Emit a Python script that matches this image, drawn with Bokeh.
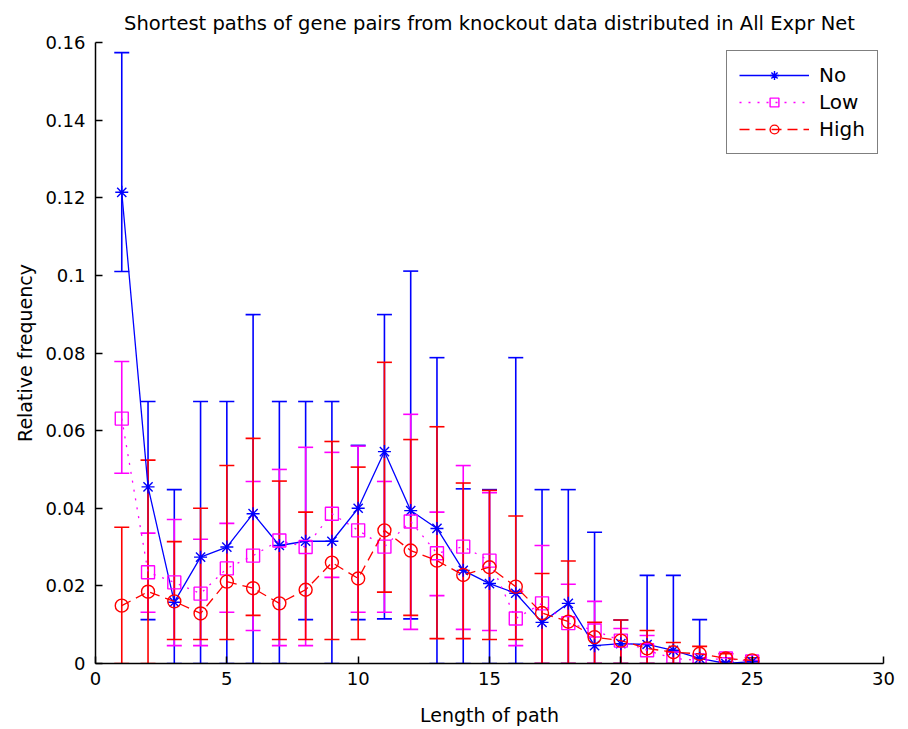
from bokeh.plotting import figure
from bokeh.models import (ColumnDataSource, Whisker, TeeHead, Legend, LegendItem,
                          FixedTicker, Range1d, Title)
from bokeh.embed import file_html
from bokeh.resources import INLINE

# ---- data ----
path_len = list(range(1, 26))

no_mean = [0.1214, 0.0455, 0.0158, 0.0274, 0.0300, 0.0386, 0.0304, 0.0315, 0.0315, 0.0400,
           0.0546, 0.0394, 0.0348, 0.0240, 0.0206, 0.0181, 0.0106, 0.0155, 0.0046, 0.0051,
           0.0049, 0.0034, 0.0013, 0.0000, 0.0005]
no_lower = [0.1010, 0.0113, 0.0, 0.0, 0.0, 0.0, 0.0, 0.0113, 0.0, 0.0113,
            0.0115, 0.0115, 0.0, 0.0, 0.0, 0.0, 0.0, 0.0, 0.0, 0.0,
            0.0, 0.0, 0.0, 0.0, 0.0]
no_upper = [0.1574, 0.0675, 0.0448, 0.0675, 0.0675, 0.0899, 0.0675, 0.0675, 0.0675, 0.0562,
            0.0899, 0.1011, 0.0788, 0.0450, 0.0448, 0.0788, 0.0448, 0.0448, 0.0338, 0.0112,
            0.0227, 0.0227, 0.0113, 0.0005, 0.0005]

low_mean = [0.0631, 0.0235, 0.0209, 0.0180, 0.0245, 0.0278, 0.0317, 0.0300, 0.0386, 0.0343,
            0.0301, 0.0366, 0.0284, 0.0301, 0.0265, 0.0116, 0.0155, 0.0104, 0.0085, 0.0059,
            0.0034, 0.0013, 0.0008, 0.0013, 0.0005]
low_lower = [0.0490, 0.0132, 0.0046, 0.0046, 0.0132, 0.0085, 0.0046, 0.0046, 0.0222, 0.0132,
             0.0132, 0.0088, 0.0175, 0.0088, 0.0085, 0.0046, 0.0, 0.0, 0.0, 0.0,
             0.0, 0.0, 0.0, 0.0, 0.0]
low_upper = [0.0778, 0.0336, 0.0371, 0.0320, 0.0361, 0.0469, 0.0500, 0.0557, 0.0544, 0.0560,
             0.0469, 0.0642, 0.0390, 0.0510, 0.0440, 0.0186, 0.0304, 0.0204, 0.0160, 0.0090,
             0.0072, 0.0030, 0.0015, 0.0015, 0.0008]

high_mean = [0.0149, 0.0185, 0.0160, 0.0129, 0.0211, 0.0194, 0.0155, 0.0190, 0.0260, 0.0219,
             0.0343, 0.0291, 0.0265, 0.0228, 0.0248, 0.0198, 0.0130, 0.0108, 0.0068, 0.0059,
             0.0039, 0.0029, 0.0025, 0.0013, 0.0008]
high_lower = [0.0, 0.0, 0.0062, 0.0062, 0.0062, 0.0124, 0.0062, 0.0062, 0.0062, 0.0062,
              0.0184, 0.0124, 0.0064, 0.0064, 0.0062, 0.0062, 0.0, 0.0, 0.0, 0.0,
              0.0, 0.0, 0.0, 0.0, 0.0]
high_upper = [0.0351, 0.0524, 0.0314, 0.0400, 0.0510, 0.0580, 0.0470, 0.0390, 0.0572, 0.0506,
              0.0776, 0.0577, 0.0610, 0.0465, 0.0446, 0.0380, 0.0232, 0.0264, 0.0106, 0.0112,
              0.0085, 0.0054, 0.0044, 0.0025, 0.0015]

series_names = ["No", "Low", "High"]
x_ticks = [0, 5, 10, 15, 20, 25, 30]
y_ticks = [0, 0.02, 0.04, 0.06, 0.08, 0.1, 0.12, 0.14, 0.16]
y_tick_labels = ["0", "0.02", "0.04", "0.06", "0.08", "0.1", "0.12", "0.14", "0.16"]

title_text = "Shortest paths of gene pairs from knockout data distributed in All Expr Net"
x_label = "Length of path"
y_label = "Relative frequency"

FONT = "DejaVu Sans"

p = figure(width=908, height=729, output_backend="svg", toolbar_location=None,
           x_range=Range1d(0, 30), y_range=Range1d(0, 0.16),
           min_border_left=95, min_border_right=25, min_border_top=42, min_border_bottom=66)
p.title = Title(text=title_text, align="center", text_font=FONT,
                text_font_size="19.5px", text_font_style="normal", text_color="black",
                offset=0, standoff=16)
p.outline_line_color = None
p.xgrid.visible = False
p.ygrid.visible = False

for ax in (p.xaxis[0], p.yaxis[0]):
    ax.major_tick_in = 7
    ax.major_tick_out = 0
    ax.minor_tick_line_color = None
    ax.axis_line_width = 1.5
    ax.major_tick_line_width = 1.5
    ax.major_label_text_font = FONT
    ax.major_label_text_font_size = "18px"
    ax.major_label_text_color = "black"
    ax.axis_label_text_font = FONT
    ax.axis_label_text_font_size = "19px"
    ax.axis_label_text_font_style = "normal"
    ax.axis_label_text_color = "black"

p.xaxis.ticker = FixedTicker(ticks=x_ticks)
p.yaxis.ticker = FixedTicker(ticks=y_ticks)
p.yaxis.major_label_overrides = {t: l for t, l in zip(y_ticks, y_tick_labels)}
p.xaxis.axis_label = x_label
p.yaxis.axis_label = y_label
p.xaxis.major_label_standoff = 8
p.yaxis.major_label_standoff = 10
p.xaxis.axis_label_standoff = 16
p.yaxis.axis_label_standoff = 6

styles = [
    dict(mean=no_mean, lo=no_lower, hi=no_upper, color="#0000FF", dash="solid", marker="asterisk", size=13),
    dict(mean=low_mean, lo=low_lower, hi=low_upper, color="#FF00FF", dash="2 7", marker="square", size=13),
    dict(mean=high_mean, lo=high_lower, hi=high_upper, color="#FF0000", dash="10 6", marker="circle", size=13),
]

items = []
for name, st in zip(series_names, styles):
    src = ColumnDataSource(dict(x=path_len, y=st["mean"], lo=st["lo"], hi=st["hi"]))
    w = Whisker(source=src, base="x", lower="lo", upper="hi",
                line_color=st["color"], line_width=1.6,
                upper_head=TeeHead(size=15, line_color=st["color"], line_width=1.6),
                lower_head=TeeHead(size=15, line_color=st["color"], line_width=1.6))
    p.add_layout(w)
    ln = p.line("x", "y", source=src, line_color=st["color"], line_width=1.3, line_dash=st["dash"])
    mk = p.scatter("x", "y", source=src, marker=st["marker"], size=st["size"],
                   line_color=st["color"], fill_color=None, line_width=1.4)
    items.append(LegendItem(label=name, renderers=[ln, mk]))

legend = Legend(items=items, location=(631, 509), orientation="vertical",
                label_text_font=FONT, label_text_font_size="20px", label_text_color="black",
                glyph_width=70, glyph_height=22, label_height=22, spacing=3, padding=12,
                label_standoff=10,
                border_line_color="black", border_line_width=1.2, background_fill_alpha=1.0,
                margin=0)
p.add_layout(legend)

open("out.html", "w").write(file_html(p, INLINE))
